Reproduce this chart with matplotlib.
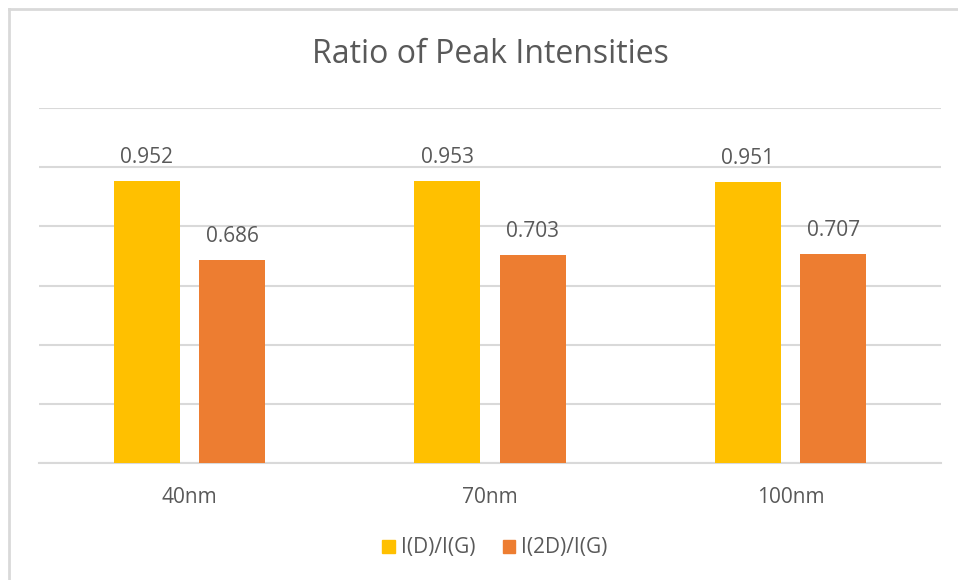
import numpy as np
import matplotlib
matplotlib.use('Agg')
from matplotlib import pyplot as plt
from matplotlib.patches import Patch
from matplotlib.lines import Line2D

categories = ['40nm', '70nm', '100nm']
series_names = ['I(D)/I(G)', 'I(2D)/I(G)']
d_g = [0.952, 0.953, 0.951]
d2_g = [0.686, 0.703, 0.707]
colors = ['#FFC000', '#ED7D31']

plt.rcParams['font.family'] = ['Open Sans', 'DejaVu Sans']
txt = '#595959'

fig = plt.figure(figsize=(9.58, 5.8), dpi=100)
ax = fig.add_axes([39/958, 1 - 463/580, (941-39)/958, (463-108)/580])

x = np.arange(len(categories))
w = 0.22
off = 0.142
for vals, c, sgn in [(d_g, colors[0], -1), (d2_g, colors[1], 1)]:
    bars = ax.bar(x + sgn*off, vals, w, color=c, zorder=3)
    for b, v in zip(bars, vals):
        ax.annotate(f'{v:.3f}', (b.get_x() + b.get_width()/2, v), xytext=(0, 13),
                    textcoords='offset points', ha='center', va='baseline',
                    fontsize=15, color=txt)

ax.set_xlim(-0.5, 2.5)
ax.set_ylim(0, 1.2)
ax.set_yticks(np.arange(0, 1.21, 0.2))
ax.set_yticklabels([])
ax.tick_params(axis='y', length=0)
ax.tick_params(axis='x', length=0, pad=17, labelsize=15, labelcolor=txt)
ax.set_xticks(x)
ax.set_xticklabels(categories)
ax.grid(axis='y', color='#D9D9D9', lw=1.5, zorder=0)
for s in ['top', 'right', 'left']:
    ax.spines[s].set_visible(False)
ax.spines['bottom'].set_color('#D9D9D9')
ax.spines['bottom'].set_linewidth(1.5)

fig.text(490/958, 1 - 63/580, 'Ratio of Peak Intensities', ha='center', va='baseline',
         fontsize=23, color=txt)

handles = [Patch(color=c, label=n) for c, n in zip(colors, series_names)]
fig.legend(handles=handles, loc='center', bbox_to_anchor=(495/958, 1 - 548/580), ncol=2,
           frameon=False, fontsize=15, labelcolor=txt, handlelength=0.6, handleheight=0.6,
           handletextpad=0.3, columnspacing=1.3)

# chart frame (only left and top edges fall inside the picture)
fig.add_artist(Line2D([9/958, 9/958], [0, 1 - 9/580], transform=fig.transFigure,
                      color='#D9D9D9', lw=2))
fig.add_artist(Line2D([9/958, 1], [1 - 9/580, 1 - 9/580], transform=fig.transFigure,
                      color='#D9D9D9', lw=2))

fig.savefig('out.png', dpi=100)
